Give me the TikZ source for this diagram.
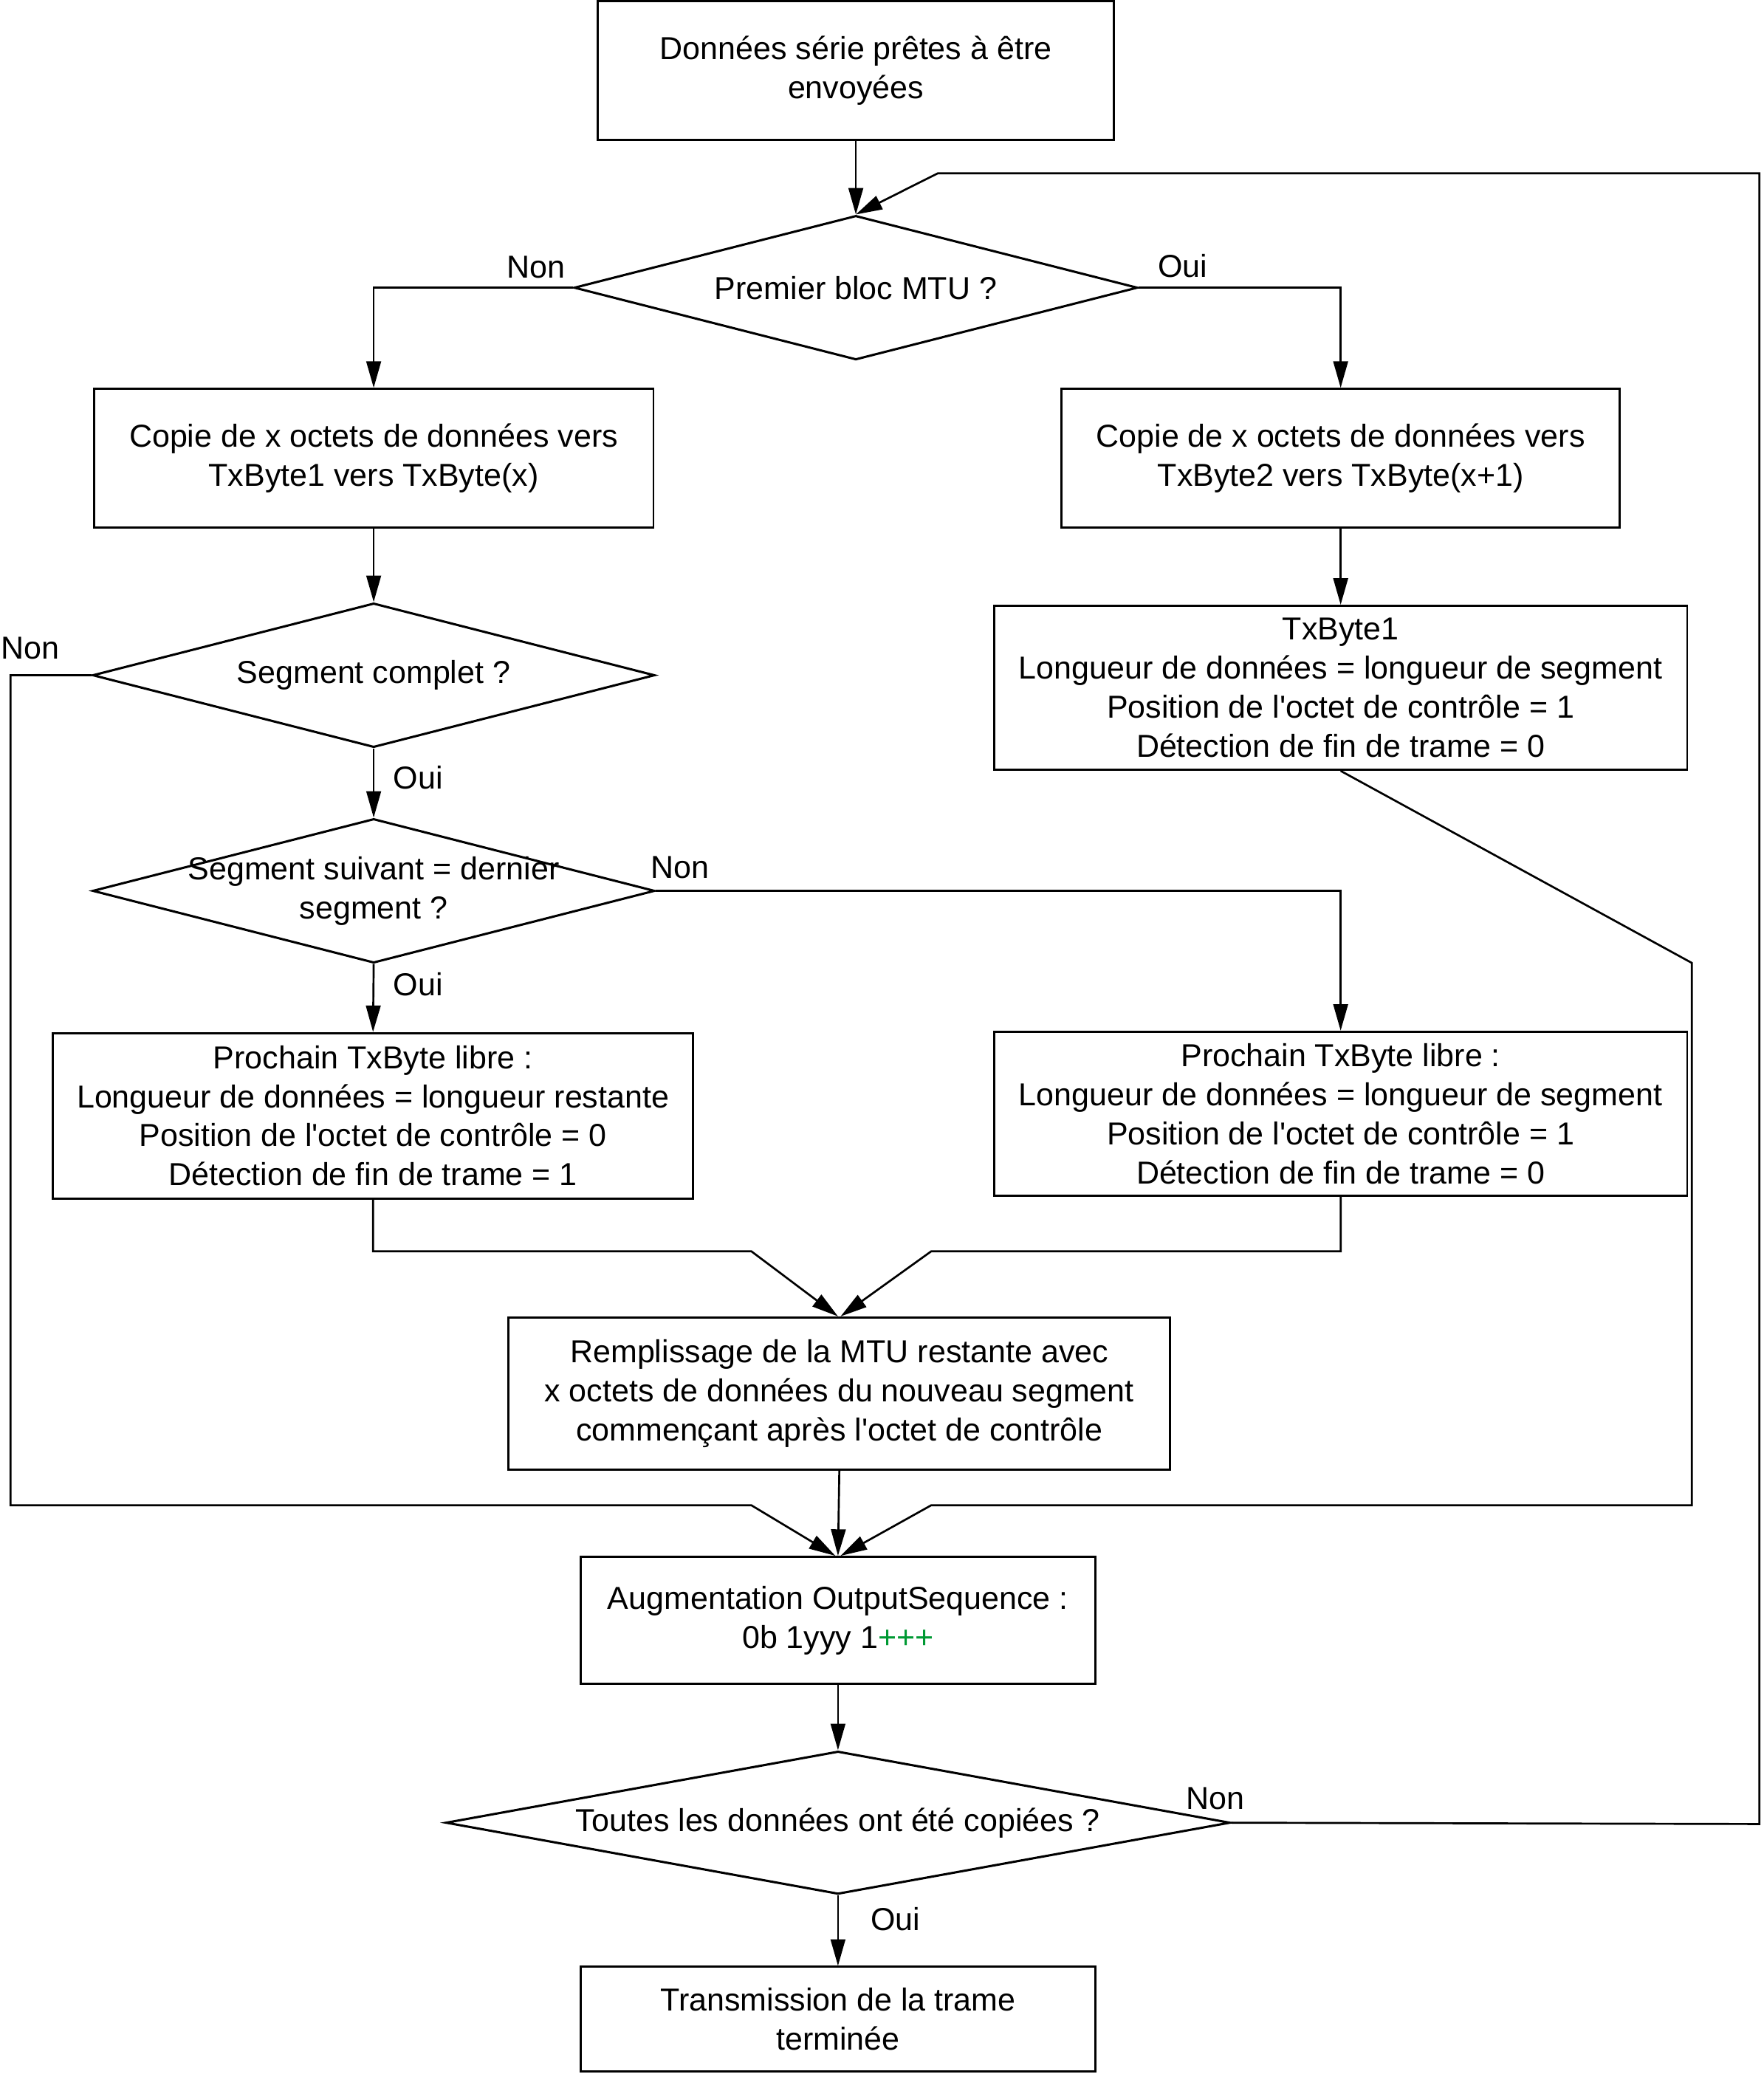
\documentclass[tikz,border=0pt]{standalone}
\usepackage{fontspec}
\setmainfont{Liberation Sans}
\usetikzlibrary{arrows.meta,shapes.geometric,calc}
\definecolor{plusgreen}{RGB}{0,153,51}
\newcommand{\apos}{\textquotesingle}
\begin{document}
\begin{tikzpicture}[x=1pt,y=-1pt,
  every node/.style={font=\fontsize{24}{29.5}\selectfont},
  box/.style={draw,line width=1.6pt,rectangle,align=center,inner sep=0pt},
  dia/.style={draw,line width=1.7pt,diamond,inner sep=0pt,aspect=1},
  conn/.style={line width=1.5pt},
  arr/.style={line width=1.5pt,-{Triangle[length=20pt,width=11pt]}},
  lbl/.style={inner sep=0pt}]
\useasboundingbox (0,0) rectangle (1333,1568);
% boxes
\node[box,minimum width=390pt,minimum height=105pt] (start) at (647,53.5) {Données série prêtes à être\\envoyées};
\node[box,minimum width=423pt,minimum height=105pt] (b2) at (282.5,346.5) {Copie de x octets de données vers\\TxByte1 vers TxByte(x)};
\node[box,minimum width=422pt,minimum height=105pt] (b3) at (1013.5,346.5) {Copie de x octets de données vers\\TxByte2 vers TxByte(x+1)};
\node[box,minimum width=524pt,minimum height=124pt] (tx) at (1013.5,520) {TxByte1\\Longueur de données = longueur de segment\\Position de l\apos octet de contrôle = 1\\Détection de fin de trame = 0};
\node[box,minimum width=484pt,minimum height=125pt] (b4) at (282,843.5) {Prochain TxByte libre :\\Longueur de données = longueur restante\\Position de l\apos octet de contrôle = 0\\Détection de fin de trame = 1};
\node[box,minimum width=524pt,minimum height=124pt] (b5) at (1013.5,842) {Prochain TxByte libre :\\Longueur de données = longueur de segment\\Position de l\apos octet de contrôle = 1\\Détection de fin de trame = 0};
\node[box,minimum width=500pt,minimum height=115pt] (b6) at (634.5,1053.5) {Remplissage de la MTU restante avec\\x octets de données du nouveau segment\\commençant après l\apos octet de contrôle};
\node[box,minimum width=389pt,minimum height=96pt] (b7) at (633.5,1225) {Augmentation OutputSequence :\\0b 1yyy 1\textcolor{plusgreen}{+++}};
\node[box,minimum width=389pt,minimum height=79pt] (b8) at (633.5,1526.5) {Transmission de la trame\\terminée};
% diamonds
\node[dia,minimum width=426pt,minimum height=109pt] (d1) at (647,217.5) {};
\node[lbl] (d1t) at (d1.center) {Premier bloc MTU ?};
\node[dia,minimum width=425pt,minimum height=109pt] (d2) at (282.5,510.5) {};
\node[lbl] (d2t) at (d2.center) {Segment complet ?};
\node[dia,minimum width=425pt,minimum height=109pt] (d3) at (282.5,673.5) {};
\node[lbl,align=center] (d3t) at (d3.center) {Segment suivant = dernier\\segment ?};
\node[dia,minimum width=593pt,minimum height=108pt] (d4) at (633.5,1378) {};
\node[lbl] (d4t) at (d4.center) {Toutes les données ont été copiées ?};
% labels
\node[lbl] (l1) at (405,202) {Non};
\node[lbl] (l2) at (894,201) {Oui};
\node[lbl] (l3) at (23,490) {Non};
\node[lbl] (l4) at (316,588) {Oui};
\node[lbl] (l5) at (514,656) {Non};
\node[lbl] (l6) at (316,744) {Oui};
\node[lbl] (l7) at (919,1360) {Non};
\node[lbl] (l8) at (677,1451) {Oui};
% helper coordinates
\coordinate (t7l) at ($(b7.north)+(-2,0)$);
\coordinate (t7r) at ($(b7.north)+(2,0)$);
\coordinate (t6l) at ($(b6.north)+(-1,0)$);
\coordinate (t6r) at ($(b6.north)+(1,0)$);
\coordinate (lpA) at (8,510.5);
\coordinate (lpB) at (8,1138);
\coordinate (lpC) at (568,1138);
\coordinate (rpA) at (1279,728);
\coordinate (rpB) at (1279,1138);
\coordinate (rpC) at (704,1138);
\coordinate (m4a) at (282,946);
\coordinate (m4b) at (568,946);
\coordinate (m5a) at (1013.5,946);
\coordinate (m5b) at (704,946);
\coordinate (lbA) at (1330,1379);
\coordinate (lbB) at (1330,131);
\coordinate (lbC) at (709,131);
% connectors
\draw[arr] (start.south) -- (d1.north);
\draw[arr] (d1.west) -| (b2.north);
\draw[arr] (d1.east) -| (b3.north);
\draw[arr] (b2.south) -- (d2.north);
\draw[arr] (d2.south) -- (d3.north);
\draw[arr] (d3.south) -- (b4.north);
\draw[arr] (d3.east) -| (b5.north);
\draw[arr] (b3.south) -- (tx.north);
\draw[arr] (d2.west) -- (lpA) -- (lpB) -- (lpC) -- (t7l);
\draw[arr] (tx.south) -- (rpA) -- (rpB) -- (rpC) -- (t7r);
\draw[arr] (b4.south) -- (m4a) -- (m4b) -- (t6l);
\draw[arr] (b5.south) -- (m5a) -- (m5b) -- (t6r);
\draw[arr] (b6.south) -- (b7.north);
\draw[arr] (b7.south) -- (d4.north);
\draw[arr] (d4.east) -- (lbA) -- (lbB) -- (lbC) -- (d1.north);
\draw[arr] (d4.south) -- (b8.north);
\end{tikzpicture}
\end{document}
